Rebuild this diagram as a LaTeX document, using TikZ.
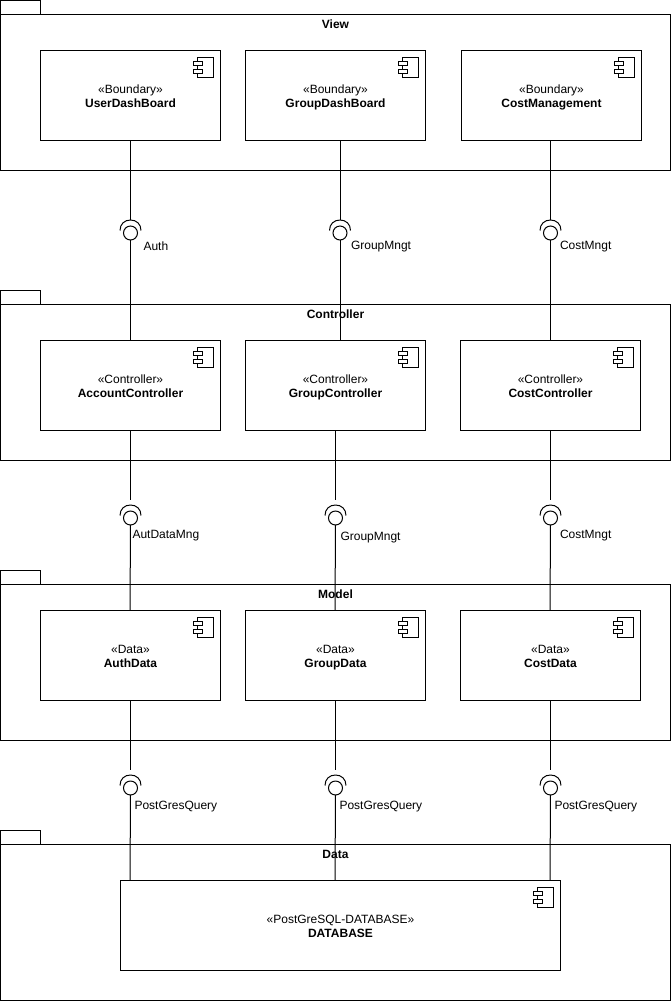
\documentclass[tikz,border=0pt]{standalone}
\usepackage{fontspec}
\setmainfont{Liberation Sans}
\usetikzlibrary{calc}
\tikzset{
  x=0.75pt,y=-0.75pt,
  every path/.style={line width=0.75pt},
  pkgbody/.style={draw,fill=white,rectangle,anchor=north west,minimum width=502.5pt,minimum height=117pt,outer sep=0pt,inner sep=0pt},
  pkgtab/.style={draw,fill=white,rectangle,anchor=south west,minimum width=30pt,minimum height=10.5pt,outer sep=0pt,inner sep=0pt},
  pkgtitle/.style={font=\bfseries\fontsize{9pt}{10.5pt}\selectfont,inner sep=0pt},
  comp/.style={draw,fill=white,rectangle,anchor=north west,minimum width=135pt,minimum height=67.5pt,outer sep=0pt,inner sep=0pt,align=center,font=\fontsize{9pt}{10.5pt}\selectfont},
  dbcomp/.style={comp,minimum width=330pt},
  ifacelabel/.style={anchor=west,inner sep=0pt,font=\fontsize{9pt}{10.5pt}\selectfont},
  ball/.style={circle,draw,minimum size=10.5pt,inner sep=0pt,outer sep=0pt},
  link/.style={draw,line width=0.75pt},
}
\newcommand{\compicon}[1]{%
  \draw[fill=white] ($(#1.north east)+(-23.5,7)$) rectangle ($(#1.north east)+(-7,27)$);
  \draw[fill=white] ($(#1.north east)+(-27,11)$) rectangle ($(#1.north east)+(-18,15)$);
  \draw[fill=white] ($(#1.north east)+(-27,19)$) rectangle ($(#1.north east)+(-18,23)$);
}
\newcommand{\comptext}[2]{\rule{0pt}{8.9pt}«#1»\\\textbf{#2}\rule[-2pt]{0pt}{2pt}}
\newcommand{\socket}[1]{%
  \draw ($(#1)+(-10.5,-2.5)$) .. controls ($(#1)+(-10.5,-9)$) and ($(#1)+(-6,-13)$) .. ($(#1)+(0,-13)$)
        .. controls ($(#1)+(6,-13)$) and ($(#1)+(10.5,-9)$) .. ($(#1)+(10.5,-2.5)$);
}
\begin{document}
\begin{tikzpicture}
\useasboundingbox (0,0) rectangle (671,1001);
\fill[white] (0,0) rectangle (671,1001);

% Packages
\node[pkgtab] (viewtab) at (0.5,14.5) {};
\node[pkgbody] (view) at (0.5,14.5) {};
\node[pkgtab] (ctrltab) at (0.5,304.5) {};
\node[pkgbody] (ctrl) at (0.5,304.5) {};
\node[pkgtab] (modeltab) at (0.5,584.5) {};
\node[pkgbody] (model) at (0.5,584.5) {};
\node[pkgtab] (datatab) at (0.5,844.5) {};
\node[pkgbody] (data) at (0.5,844.5) {};

% Lollipops
\node[ball] (b1) at (130.5,233) {};
\node[ball] (b2) at (340,233) {};
\node[ball] (b3) at (550.5,233) {};
\node[ball] (b4) at (130.5,518) {};
\node[ball] (b5) at (335.5,518) {};
\node[ball] (b6) at (550.5,518) {};
\node[ball] (b7) at (130.5,788) {};
\node[ball] (b8) at (335.5,788) {};
\node[ball] (b9) at (550.5,788) {};
\foreach \b in {b1,b2,b3,b4,b5,b6,b7,b8,b9}{\socket{\b}}

% Components
\node[comp] (ud) at (40.5,50.5) {\comptext{Boundary}{UserDashBoard}};
\node[comp] (gd) at (245.5,50.5) {\comptext{Boundary}{GroupDashBoard}};
\node[comp] (cm) at (461.5,50.5) {\comptext{Boundary}{CostManagement}};
\node[comp] (ac) at (40.5,340.5) {\comptext{Controller}{AccountController}};
\node[comp] (gc) at (245.5,340.5) {\comptext{Controller}{GroupController}};
\node[comp] (cc) at (460.5,340.5) {\comptext{Controller}{CostController}};
\node[comp] (ad) at (40.5,610.5) {\comptext{Data}{AuthData}};
\node[comp] (grd) at (245.5,610.5) {\comptext{Data}{GroupData}};
\node[comp] (cd) at (460.5,610.5) {\comptext{Data}{CostData}};
\node[dbcomp] (db) at (120.5,880.5) {\comptext{PostGreSQL-DATABASE}{DATABASE}};
\foreach \c in {ud,gd,cm,ac,gc,cc,ad,grd,cd,db}{\compicon{\c}}

% Free ends of the upper connector stubs
\coordinate (t1) at ($(b1)+(0,-13)$);
\coordinate (t2) at ($(b2)+(0,-13)$);
\coordinate (t3) at ($(b3)+(0,-13)$);
\coordinate (t4) at ($(b4)+(0,-18)$);
\coordinate (t5) at ($(b5)+(0,-18)$);
\coordinate (t6) at ($(b6)+(0,-18)$);
\coordinate (t7) at ($(b7)+(0,-18)$);
\coordinate (t8) at ($(b8)+(0,-18)$);
\coordinate (t9) at ($(b9)+(0,-18)$);

\draw[link] (t1 |- ud.south) -- (t1);
\draw[link] (t2 |- gd.south) -- (t2);
\draw[link] (t3 |- cm.south) -- (t3);
\draw[link] (b1.south) -- (b1 |- ac.north);
\draw[link] (b2.south) -- (b2 |- gc.north);
\draw[link] (b3.south) -- (b3 |- cc.north);

\draw[link] (t4 |- ac.south) -- (t4);
\draw[link] (t5 |- gc.south) -- (t5);
\draw[link] (t6 |- cc.south) -- (t6);
\draw[link] (b4.south) -- ($(b4 |- ad.north)+(-0.5,0)$);
\draw[link] (b5.south) -- ($(b5 |- grd.north)+(-0.5,0)$);
\draw[link] (b6.south) -- ($(b6 |- cd.north)+(-0.5,0)$);

\draw[link] (t7 |- ad.south) -- (t7);
\draw[link] (t8 |- grd.south) -- (t8);
\draw[link] (t9 |- cd.south) -- (t9);
\draw[link] (b7.south) -- ($(b7 |- db.north)+(-0.5,0)$);
\draw[link] (b8.south) -- ($(b8 |- db.north)+(-0.5,0)$);
\draw[link] (b9.south) -- ($(b9 |- db.north)+(-0.5,0)$);

% Package titles
\node[pkgtitle] (viewt) at (335.5,24) {View};
\node[pkgtitle] (ctrlt) at (335.5,314) {Controller};
\node[pkgtitle] (modelt) at (335.5,594) {Model};
\node[pkgtitle] (datat) at (335.5,854) {Data};

% Interface labels
\node[ifacelabel] (l1) at (143,246.5) {Auth};
\node[ifacelabel] (l2) at (350.5,246.5) {GroupMngt};
\node[ifacelabel] (l3) at (559.5,246.5) {CostMngt};
\node[ifacelabel] (l4) at (132,535.5) {AutDataMng};
\node[ifacelabel] (l5) at (340,537.5) {GroupMngt};
\node[ifacelabel] (l6) at (559.5,535.5) {CostMngt};
\node[ifacelabel] (l7) at (134,806.5) {PostGresQuery};
\node[ifacelabel] (l8) at (339,806.5) {PostGresQuery};
\node[ifacelabel] (l9) at (554,806.5) {PostGresQuery};
\end{tikzpicture}
\end{document}
